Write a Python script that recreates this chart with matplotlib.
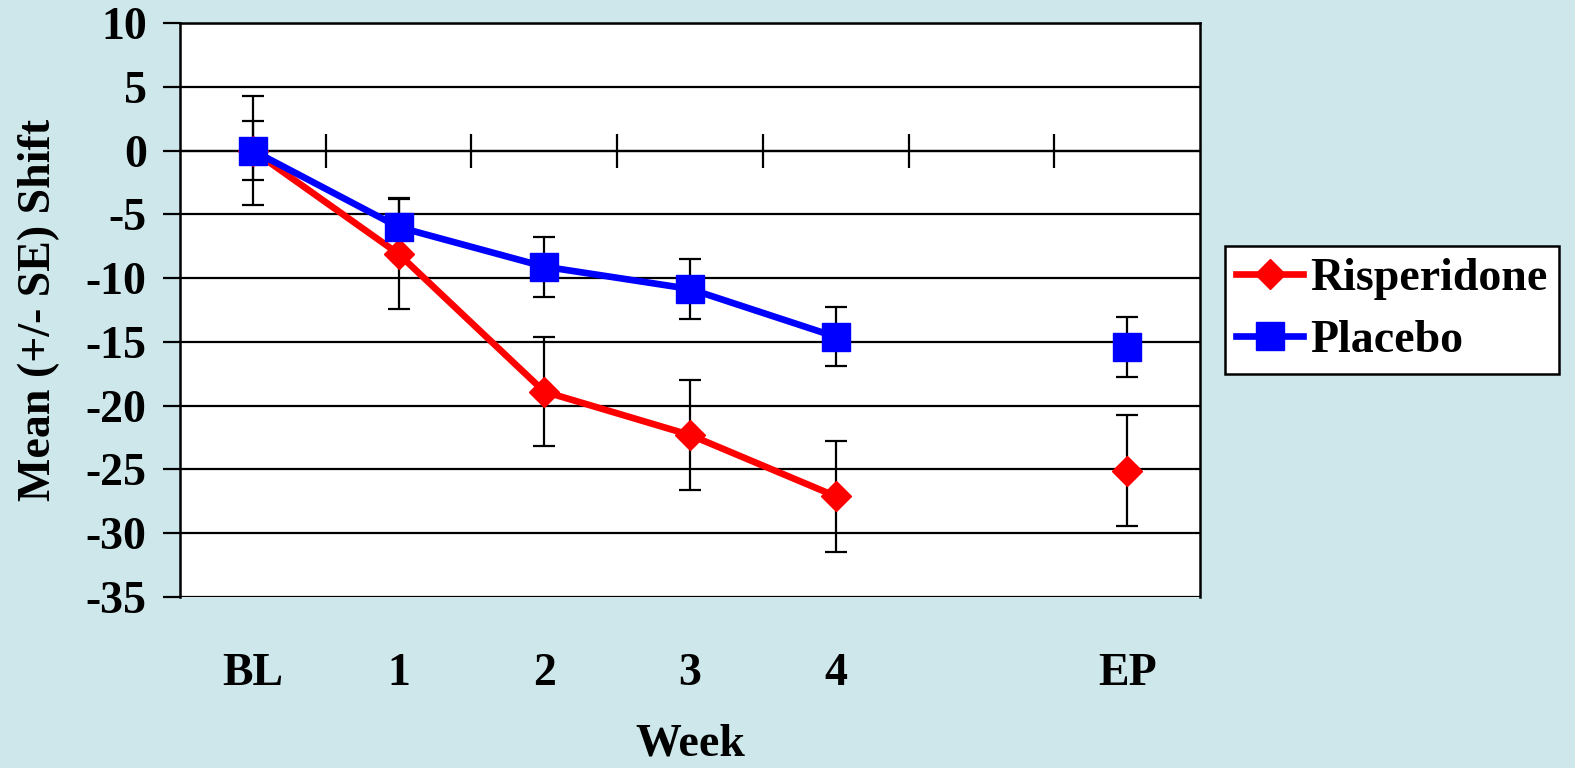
import numpy as np
import matplotlib
matplotlib.use("Agg")
import matplotlib.pyplot as plt
from matplotlib.ticker import FixedLocator

categories = ["BL", "1", "2", "3", "4", "", "EP"]
risperidone = [0.0, -8.1, -18.9, -22.3, -27.1, np.nan, -25.1]
risperidone_se = [4.3, 4.3, 4.3, 4.35, 4.35, np.nan, 4.35]
placebo = [0.0, -6.0, -9.1, -10.85, -14.6, np.nan, -15.4]
placebo_se = [2.3, 2.3, 2.35, 2.35, 2.3, np.nan, 2.35]
y_ticks = [10, 5, 0, -5, -10, -15, -20, -25, -30, -35]

BG = "#cde7eb"
FONT = "Liberation Serif"
FS = 33

plt.rcParams["font.family"] = [FONT, "DejaVu Serif"]
plt.rcParams["font.weight"] = "bold"

fig = plt.figure(figsize=(15.75, 7.68), dpi=100, facecolor=BG)
ax = fig.add_axes([180/1575, 1-597/768, 1020/1575, 574/768])
ax.set_facecolor("white")

x = np.arange(len(categories))
ax.set_xlim(-0.5, len(categories) - 0.5)
ax.set_ylim(-35, 10)

# error bars
ax.errorbar(x, risperidone, yerr=risperidone_se, fmt="none", ecolor="black",
            elinewidth=1.6, capsize=8, capthick=1.6, zorder=3)
ax.errorbar(x, placebo, yerr=placebo_se, fmt="none", ecolor="black",
            elinewidth=1.6, capsize=8, capthick=1.6, zorder=3)

ax.plot(x, risperidone, color="#ff0000", lw=4.8, marker="D", ms=15.5,
        mec="#ff0000", mfc="#ff0000", label="Risperidone", zorder=4)
ax.plot(x, placebo, color="#0000ff", lw=4.8, marker="s", ms=19.5,
        mec="#0000ff", mfc="#0000ff", label="Placebo", zorder=5)

# y axis
ax.set_yticks(y_ticks)
ax.set_yticklabels([str(t) for t in y_ticks])
ax.yaxis.grid(True, color="black", lw=1.6)
ax.set_axisbelow(True)
ax.tick_params(axis="y", direction="out", length=12, width=1.6, pad=12,
               labelsize=FS)
for lab in ax.get_yticklabels():
    lab.set_fontweight("bold")

for s in ["left", "right", "top"]:
    ax.spines[s].set_linewidth(1.8)
    ax.spines[s].set_color("black")

# horizontal axis crossing at zero
ax.spines["bottom"].set_position(("data", 0))
ax.spines["bottom"].set_linewidth(1.6)
ax.set_xticks(x)
ax.set_xticklabels([])
ax.xaxis.set_minor_locator(FixedLocator(x[:-1] + 0.5))
ax.tick_params(axis="x", which="major", length=0)
ax.tick_params(axis="x", which="minor", direction="inout", length=24, width=1.6)

sec = ax.secondary_xaxis("bottom")
sec.spines["bottom"].set_visible(False)
sec.set_xticks(x)
sec.set_xticklabels(categories)
sec.tick_params(axis="x", length=0, pad=40, labelsize=FS)
for lab in sec.get_xticklabels():
    lab.set_fontweight("bold")
sec.set_xlabel("Week", fontsize=FS, fontweight="bold", labelpad=21)

ax.set_ylabel("Mean (+/- SE) Shift", fontsize=FS, fontweight="bold", labelpad=8)
ax.yaxis.set_label_coords(-0.1175, 0.5)

leg = ax.legend(loc="center left", bbox_to_anchor=(1.0245, 0.5), frameon=True,
                fancybox=False, edgecolor="black", framealpha=1,
                prop={"family": FONT, "weight": "bold", "size": 33},
                handlelength=1.45, handletextpad=0.15, borderpad=0.25,
                labelspacing=0.45, borderaxespad=0)
leg.get_frame().set_linewidth(1.8)

fig.savefig("out.png", dpi=100, facecolor=BG)
